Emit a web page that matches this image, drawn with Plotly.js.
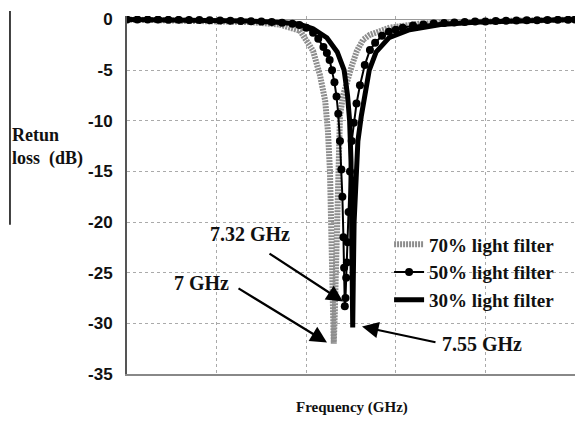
<!DOCTYPE html>
<html>
<head>
<meta charset="utf-8">
<script src="https://cdn.plot.ly/plotly-3.0.1.min.js"></script>
<style>html,body{margin:0;padding:0;background:#fff}#chart{width:575px;height:438px}</style>
</head>
<body>
<div id="chart"></div>
<script>
// Frequency (GHz) and return loss (dB)
var seriesNames = ["70% light filter", "50% light filter", "30% light filter"];

var freq70 = [1.0, 3.1, 4.57, 5.44, 6.02, 6.4, 6.6, 6.75, 6.83, 6.89, 6.92, 6.95, 6.98, 7.0,
              7.03, 7.06, 7.09, 7.12, 7.18, 7.27, 7.38, 7.53, 7.67, 7.85, 8.05, 8.63, 9.5, 10.95, 12.4, 14.0];
var loss70 = [0, -0.1, -0.25, -0.5, -1.1, -3.1, -5.5, -8, -11, -15, -20, -25, -29, -32,
              -29, -24, -18, -13, -9.5, -7.5, -6, -4.5, -3.1, -2, -1.5, -0.8, -0.4, -0.2, -0.1, 0];

var freq50 = [1.0, 1.3, 1.6, 1.9, 2.2, 2.5, 2.8, 3.1, 3.4, 3.7, 4.0, 4.3, 4.6, 4.9, 5.2, 5.5, 5.8,
              6.0, 6.2, 6.4, 6.55, 6.7, 6.8, 6.88, 6.95, 7.02, 7.08, 7.13, 7.18, 7.22, 7.25, 7.28, 7.30, 7.32,
              7.34, 7.36, 7.38, 7.40, 7.43, 7.47, 7.52, 7.58, 7.66, 7.76, 7.9, 8.05, 8.2, 8.4, 8.6, 8.8,
              9.0, 9.3, 9.6, 9.9, 10.2, 10.5, 10.8, 11.1, 11.4, 11.7, 12.0, 12.3, 12.6, 12.9, 13.2, 13.5, 13.8, 14.0];
var loss50 = [0, 0, 0, 0, -0.02, -0.03, -0.04, -0.05, -0.07, -0.09, -0.11, -0.14, -0.17, -0.2, -0.25, -0.32, -0.42,
              -0.55, -0.8, -1.3, -1.9, -2.7, -3.3, -4.0, -5.0, -6.2, -7.6, -9.3, -12.0, -14.8, -17.5, -21.5, -24.5, -28.3,
              -27.5, -25.5, -24, -22, -19, -15, -12, -10.2, -8.3, -6.5, -4.5, -3.0, -2.3, -1.6, -1.2, -1.0,
              -0.8, -0.6, -0.5, -0.4, -0.35, -0.3, -0.25, -0.2, -0.2, -0.15, -0.12, -0.1, -0.08, -0.06, -0.05, -0.03, -0.02, 0];

var freq30 = [1.0, 3.0, 4.5, 5.5, 6.0, 6.4, 6.8, 7.1, 7.30, 7.40, 7.46, 7.50, 7.525, 7.54, 7.55,
              7.565, 7.59, 7.64, 7.70, 7.80, 7.91, 8.03, 8.23, 8.6, 9.2, 10.1, 11.2, 12.7, 14.0];
var loss30 = [0, -0.05, -0.15, -0.3, -0.45, -0.9, -1.8, -3.2, -5, -7.5, -10, -14, -20, -25, -30.4,
              -26, -20, -15, -12, -9.5, -7, -5, -3.2, -1.8, -1.0, -0.5, -0.25, -0.1, 0];

var yTickVals = [0, -5, -10, -15, -20, -25, -30, -35];
var yTickText = ["0", "-5", "-10", "-15", "-20", "-25", "-30", "-35"];
var peakLabels = ["7.32 GHz", "7 GHz", "7.55 GHz"];

var serif = "Liberation Serif, Times New Roman, serif";
var sans = "Liberation Sans, Arial, sans-serif";

var traces = [
  {x: freq70, y: loss70, name: seriesNames[0], mode: "lines",
   line: {color: "#8e8e8e", width: 6, dash: "2px,1px"}},
  {x: freq50, y: loss50, name: seriesNames[1], mode: "lines+markers",
   line: {color: "#000", width: 2},
   marker: {color: "#000", size: 8, symbol: "circle"}},
  {x: freq30, y: loss30, name: seriesNames[2], mode: "lines",
   line: {color: "#000", width: 5}}
];

var layout = {
  width: 575, height: 438,
  margin: {l: 127, r: 0, t: 16, b: 64},
  paper_bgcolor: "#fff", plot_bgcolor: "#fff",
  showlegend: true,
  legend: {x: 0.585, y: 0.415, xanchor: "left", yanchor: "top", bgcolor: "rgba(0,0,0,0)",
           font: {family: serif, size: 19, weight: 700, color: "#111"}},
  xaxis: {range: [1, 14], tick0: 1, dtick: 2.6, showticklabels: false, ticks: "",
          showgrid: true, gridcolor: "#aaa", griddash: "dot", gridwidth: 1,
          showline: true, linecolor: "#888", linewidth: 2, zeroline: false},
  yaxis: {range: [-35, 0.35], tickmode: "array", tickvals: yTickVals,
          ticktext: yTickText.map(function (t) { return "<b>" + t + "</b>"; }), ticks: "",
          ticklabelstandoff: 9,
          tickfont: {family: sans, size: 17, color: "#111"},
          showgrid: true, gridcolor: "#aaa", griddash: "dot", gridwidth: 1,
          showline: true, linecolor: "#555", linewidth: 2,
          zeroline: true, zerolinecolor: "#999", zerolinewidth: 1.5},
  shapes: [
    {type: "line", xref: "paper", yref: "paper", x0: -0.2612, x1: -0.2612, y0: 0.417, y1: 1.014,
     line: {color: "#000", width: 1.5}}
  ],
  annotations: [
    {xref: "paper", yref: "paper", x: -0.2612, y: 0.667, xanchor: "left", yanchor: "middle", showarrow: false,
     text: "<b>Retun</b>", font: {family: serif, size: 18, color: "#111"}},
    {xref: "paper", yref: "paper", x: -0.2612, y: 0.603, xanchor: "left", yanchor: "middle", showarrow: false,
     text: "<b>loss  (dB)</b>", font: {family: serif, size: 18, color: "#111"}},
    {xref: "paper", yref: "paper", x: 0.502, y: -0.093, xanchor: "center", yanchor: "middle", showarrow: false,
     text: "<b>Frequency (GHz)</b>", font: {family: serif, size: 15, color: "#111"}},
    {xref: "paper", yref: "paper", x: 0.1808, y: 0.392, xanchor: "left", yanchor: "middle", showarrow: false,
     text: "<b>" + peakLabels[0] + "</b>", font: {family: serif, size: 20, color: "#111"}},
    {xref: "paper", yref: "paper", x: 0.1004, y: 0.255, xanchor: "left", yanchor: "middle", showarrow: false,
     text: "<b>" + peakLabels[1] + "</b>", font: {family: serif, size: 20, color: "#111"}},
    {xref: "paper", yref: "paper", x: 0.6987, y: 0.085, xanchor: "left", yanchor: "middle", showarrow: false,
     text: "<b>" + peakLabels[2] + "</b>", font: {family: serif, size: 20, color: "#111"}},
    {xref: "x", yref: "y", x: 7.268, y: -27.85, ax: -75, ay: -49, text: "", showarrow: true,
     arrowhead: 2, arrowsize: 1.5, arrowwidth: 2.2, arrowcolor: "#000"},
    {xref: "x", yref: "y", x: 6.804, y: -31.89, ax: -90, ay: -55, text: "", showarrow: true,
     arrowhead: 2, arrowsize: 1.5, arrowwidth: 2.2, arrowcolor: "#000"},
    {xref: "x", yref: "y", x: 7.819, y: -30.32, ax: 75, ay: 16, text: "", showarrow: true,
     arrowhead: 2, arrowsize: 1.5, arrowwidth: 2.2, arrowcolor: "#000"}
  ]
};

Plotly.newPlot("chart", traces, layout, {displayModeBar: false, staticPlot: true});
</script>
</body>
</html>
